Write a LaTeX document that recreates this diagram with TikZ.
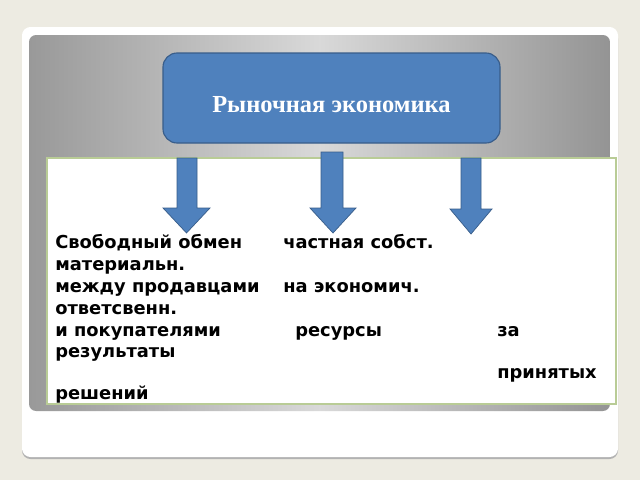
\documentclass[tikz,border=0pt]{standalone}
\usepackage{fontspec}
\setmainfont{Liberation Serif}
\setsansfont{DejaVu Sans}
\usepackage{xcolor}
\usetikzlibrary{positioning,calc}

\definecolor{pagebg}{HTML}{EDEBE2}
\definecolor{boxblue}{HTML}{4F81BD}
\definecolor{boxedge}{HTML}{385D8A}
\definecolor{paneledge}{HTML}{B9CC96}

\begin{document}
\begin{tikzpicture}[
    x=0.025cm, y=-0.025cm,
    card/.style={fill=white, rounded corners=6pt},
    title/.style={rectangle, draw=boxedge, thick, rounded corners=10pt, fill=boxblue,
        minimum width=337*0.025cm, minimum height=90*0.025cm},
    titletext/.style={inner sep=0pt, font=\fontsize{17.4}{20}\selectfont\bfseries, text=white},
    item/.style={anchor=base west, inner sep=0pt, font=\sffamily\bfseries\fontsize{12.7}{15}\selectfont, text=black},
    downarr/.style={fill=boxblue, draw=boxedge, line width=0.5pt, line join=miter}
]
% ============================================================
% BACKGROUND
% ============================================================
\useasboundingbox (0,0) rectangle (640,480);
\fill[pagebg] (0,0) rectangle (640,480);
\fill[black!30, rounded corners=6pt] (22,30) rectangle (618,459);
\fill[card] (22,27) rectangle (618,457);
\shade[rounded corners=5pt, left color=black!40, right color=black!42, middle color=black!15]
    (29,35) rectangle (610,411);

% ============================================================
% TITLE
% ============================================================
\node[title] (market) at (331.5,98) {};
\node[titletext] (markettext) at ($(market.center)+(0,7)$) {Рыночная экономика};

% ============================================================
% CONTENT PANEL
% ============================================================
\node[draw=paneledge, line width=1pt, fill=white, minimum width=569*0.025cm, minimum height=246*0.025cm,
    inner sep=0pt] (panel) at (331.5,281) {};

% arrows
\draw[downarr] (177,158) -- (197,158) -- (197,208) -- (210,208) -- (186.5,233)
    -- (163,208) -- (177,208) -- cycle;
\draw[downarr] (321,152) -- (343,152) -- (343,208) -- (356,208) -- (333,233)
    -- (310,208) -- (321,208) -- cycle;
\draw[downarr] (461,158) -- (481,158) -- (481,209) -- (492,209) -- (471,234)
    -- (450,209) -- (461,209) -- cycle;

% text lines
\node[item] (exch)   at (55,248) {Свободный обмен};
\node[item] (priv)   at (283,248) {частная собст.};
\node[item] (mat)    at (55,270) {материальн.};
\node[item] (betw)   at (55,292) {между продавцами};
\node[item] (econ)   at (283,292) {на экономич.};
\node[item] (resp)   at (55,314) {ответсвенн.};
\node[item] (buy)    at (55,336) {и покупателями};
\node[item] (res)    at (295,336) {ресурсы};
\node[item] (for)    at (497,336) {за};
\node[item] (result) at (55,357) {результаты};
\node[item] (taken)  at (497,378) {принятых};
\node[item] (dec)    at (55,399) {решений};

\end{tikzpicture}
\end{document}
